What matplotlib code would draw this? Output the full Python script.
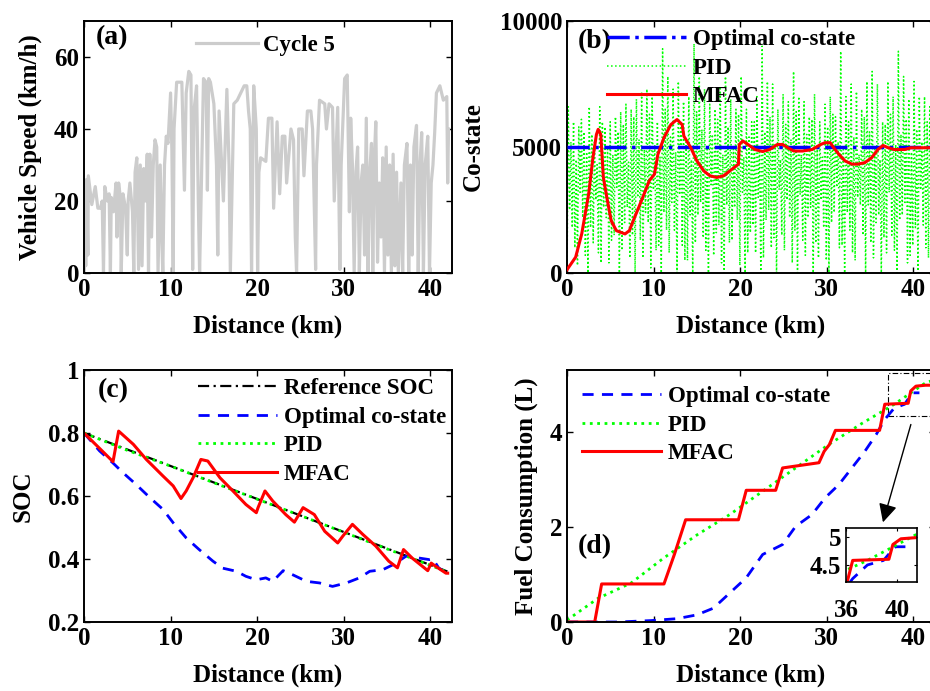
import numpy as np
import matplotlib
matplotlib.use("Agg")
import matplotlib.pyplot as plt
from matplotlib.patches import Rectangle

plt.rcParams['font.family'] = ['Liberation Serif', 'DejaVu Serif']
plt.rcParams['font.weight'] = 'bold'
plt.rcParams['font.size'] = 18
plt.rcParams['axes.labelweight'] = 'bold'

# ---- (a) driving cycle: distance (km) / speed (km/h)
speed_pts = [
    (0.0, 0), (0.1, 25), (0.2, 2), (0.3, 26), (0.45, 5), (0.5, 27), (0.6, 25), (0.9, 19),
    (1.3, 24), (1.6, 18), (1.9, 18), (2.1, 20), (2.25, 0), (2.4, 24), (2.7, 20), (2.9, 22),
    (3.05, 0), (3.15, 21), (3.4, 17), (3.7, 25), (3.8, 10), (4.0, 25), (4.2, 21), (4.3, 0),
    (4.5, 22), (4.8, 18), (5.0, 5), (5.1, 20), (5.3, 25), (5.6, 17), (5.75, 0), (5.9, 28),
    (6.1, 32), (6.3, 1), (6.5, 30), (6.7, 2), (6.9, 29), (7.1, 20), (7.3, 33), (7.45, 0),
    (7.6, 33), (7.8, 10), (8.0, 30), (8.2, 37), (8.4, 35), (8.55, 0), (8.8, 30), (9.0, 8),
    (9.1, 0), (9.3, 30), (9.5, 38), (9.7, 36), (9.9, 45), (10.0, 50), (10.15, 34), (10.3, 0),
    (10.4, 40), (10.7, 53), (11.3, 53), (11.6, 23), (11.8, 50), (12.1, 56), (12.35, 55),
    (12.55, 1), (12.7, 45), (13.0, 52), (13.2, 20), (13.35, 0), (13.8, 54), (14.1, 53),
    (14.25, 23), (14.4, 54), (14.6, 53), (15.0, 47), (15.3, 30), (15.45, 5), (15.6, 45),
    (15.8, 35), (16.1, 20), (16.5, 51), (16.75, 30), (16.9, 0), (17.3, 47), (17.7, 48),
    (18.1, 50), (18.5, 52), (18.8, 52), (19.0, 45), (19.2, 40), (19.35, 0), (19.6, 52),
    (19.9, 40), (20.05, 0), (20.2, 28), (20.4, 32), (21.0, 31), (21.3, 43), (21.7, 43),
    (21.9, 18), (22.3, 42), (22.6, 22), (22.9, 38), (23.2, 38), (23.4, 25), (23.9, 40),
    (24.2, 37), (24.4, 10), (24.55, 0), (24.8, 40), (25.2, 40), (25.4, 27), (25.8, 45),
    (26.2, 45), (26.4, 40), (26.75, 1), (26.85, 30), (27.2, 48), (27.8, 47), (28.0, 40),
    (28.3, 47), (28.7, 46), (28.9, 20), (29.3, 46), (29.55, 1), (29.7, 30), (30.1, 54),
    (30.4, 55), (30.65, 17), (30.8, 43), (31.0, 30), (31.2, 0), (31.4, 28), (31.6, 35),
    (31.8, 0), (32.0, 25), (32.2, 30), (32.4, 5), (32.6, 43), (32.8, 0), (33.0, 28),
    (33.2, 36), (33.35, 0), (33.5, 30), (33.7, 42), (33.9, 3), (34.1, 25), (34.3, 10),
    (34.5, 32), (34.7, 0), (34.9, 35), (35.1, 5), (35.3, 30), (35.5, 0), (35.7, 33),
    (35.9, 2), (36.1, 28), (36.3, 0), (36.6, 25), (36.8, 0), (37.0, 30), (37.3, 36),
    (37.5, 0), (37.7, 30), (37.9, 5), (38.1, 35), (38.4, 41), (38.6, 0), (38.8, 30),
    (39.0, 39), (39.2, 0), (39.4, 30), (39.7, 38), (39.9, 0), (40.1, 25), (40.3, 30),
    (40.5, 39), (40.7, 50), (41.1, 52), (41.5, 48), (41.9, 49), (42.0, 25), (42.1, 40),
]
speed_km = [p[0] for p in speed_pts]
speed_kmh = [p[1] for p in speed_pts]

# ---- (b) co-state
pid_peaks = [6600, 6000, 5800, 5600, 6600, 5200, 6600, 5800, 6000, 6200,
             6400, 6700, 6500, 6900, 7200, 7300, 7000, 6000, 8900, 7800,
             7300, 7600, 6800, 7000, 9100, 7800, 7300, 6700, 6500, 7400,
             7800, 6900, 6500, 7800, 6500, 6000, 7000, 9000, 7600, 7500,
             6500, 7100, 6800, 8000, 7000, 6800, 6200, 7100, 6000, 6700,
             7000, 6200, 8800, 7000, 7500, 7200, 6500, 7600, 8000, 7500,
             6000, 7600, 7000, 8800, 7800, 6900, 7600, 7000, 7000, 6600]
pid_lows = [0, 1800, 300, 2200, 0, 1200, 800, 2600, 400, 1500,
            0, 2000, 600, 0, 1300, 2400, 200, 900, 0, 1700,
            2800, 0, 1100, 500, 0, 2300, 1400, 0, 700, 1900,
            0, 1200, 2600, 300, 0, 1600, 800, 0, 2100, 1000,
            0, 1500, 2900, 400, 0, 1300, 2200, 0, 600, 1800,
            0, 2400, 1000, 0, 1700, 500, 2700, 0, 1200, 2000,
            0, 800, 1500, 0, 2300, 400, 1100, 0, 1900, 600]
pid_mid_lo = [2500, 1000, 3200, 700, 1800, 2900, 400, 2200, 1300, 3400,
              900, 2600, 1500, 3000, 600, 2000, 3300, 1100, 2400, 800,
              1700, 3100, 500, 2300, 1200, 2800, 900, 3500, 1600, 400,
              2700, 1300, 2100, 3200, 800, 1900, 3000, 600, 2500, 1400,
              3300, 900, 2200, 1700, 3100, 700, 2600, 1200, 2900, 500,
              2000, 3400, 1100, 2400, 800, 3000, 1500, 2700, 600, 2300,
              1400, 3200, 900, 2100, 2800, 700, 1800, 3300, 1000, 2500]
pid_mid_hi = [5200, 4500, 6100, 4800, 5500, 4300, 6000, 5000, 4700, 5600,
              5900, 4400, 6200, 5300, 4900, 6300, 5100, 4600, 6500, 5400,
              4800, 6000, 5200, 4500, 6400, 5700, 4900, 5500, 6100, 4700,
              5800, 5000, 6300, 4600, 5400, 6000, 4800, 5600, 6200, 5100,
              4500, 5900, 5300, 6400, 4700, 5500, 6100, 5000, 4600, 5800,
              6300, 5200, 4900, 6000, 5400, 4700, 6200, 5600, 5000, 4500,
              5900, 6300, 5100, 5500, 6100, 4800, 5700, 5200, 6000, 5400]
pid_cs = np.ravel(np.column_stack([pid_lows, pid_peaks, pid_mid_lo, pid_mid_hi]))
pid_cs_km = np.linspace(0, 42.2, len(pid_cs))

opt_cs_km = [0, 42.2]
opt_cs = [5000, 5000]

mfac_cs_km = [0, 1.0, 1.7, 2.5, 3.0, 3.4, 3.6, 3.9, 4.2, 4.6, 5.1, 5.7, 6.7, 7.2, 7.8, 8.6,
              9.5, 10.1, 10.5, 11.2, 12.0, 12.7, 13.3, 13.5, 14.3, 15.0, 15.8, 16.5, 17.3,
              18.1, 18.8, 19.8, 19.9, 20.3, 20.9, 21.7, 22.6, 23.4, 24.3, 24.9, 25.5, 26.2,
              27.2, 28.3, 29.3, 29.8, 30.4, 30.8, 31.4, 32.1, 32.9, 33.6, 34.4, 35.2, 35.9,
              36.5, 37.1, 37.8, 39.0, 39.7, 41.4, 42.2]
mfac_cs = [130, 630, 1550, 3130, 4580, 5500, 5700, 5500, 3790, 3000, 2080, 1680, 1550, 1680,
           2200, 2870, 3660, 3920, 4710, 5370, 5890, 6090, 5890, 5430, 4970, 4450, 4050, 3860,
           3790, 3860, 4050, 4320, 5100, 5240, 5100, 4900, 4820, 4900, 5100, 5100, 4970, 4840,
           4840, 4900, 5100, 5170, 5170, 4970, 4710, 4450, 4320, 4320, 4380, 4580, 4900, 5060,
           4970, 4900, 4900, 4970, 4970, 4970]

# ---- (c) SOC
ref_soc_km = [0, 42.0]
ref_soc = [0.80, 0.36]
pid_soc_km = [0, 5, 10, 15, 20, 25, 30, 35, 40, 42.0]
pid_soc = [0.80, 0.745, 0.695, 0.642, 0.590, 0.538, 0.485, 0.432, 0.380, 0.358]
opt_soc_km = [0, 1.8, 3.3, 4.5, 6.0, 7.6, 9.1, 10.3, 11.8, 13.3, 14.9, 16.0, 17.6, 18.7, 19.9,
              21.0, 21.8, 23.0, 24.1, 25.7, 27.2, 28.7, 30.3, 31.8, 33.0, 34.5, 35.7, 37.2,
              38.7, 39.9, 40.3, 41.0, 41.8]
opt_soc = [0.80, 0.743, 0.706, 0.674, 0.637, 0.595, 0.558, 0.515, 0.467, 0.430, 0.393, 0.371,
           0.361, 0.345, 0.334, 0.340, 0.329, 0.363, 0.350, 0.329, 0.324, 0.313, 0.324, 0.340,
           0.361, 0.366, 0.382, 0.409, 0.403, 0.398, 0.400, 0.370, 0.360]
mfac_soc_km = [0, 3.35, 4.0, 5.7, 7.2, 9.1, 10.3, 11.2, 11.8, 12.6, 13.5, 14.3, 15.7, 17.2,
               18.7, 19.9, 20.1, 20.9, 21.8, 23.3, 24.3, 25.3, 26.6, 27.8, 29.3, 29.9, 31.0,
               32.2, 33.7, 35.2, 36.2, 36.9, 37.9, 39.7, 40.1, 40.6, 41.8, 42.0]
mfac_soc = [0.80, 0.709, 0.806, 0.764, 0.716, 0.664, 0.632, 0.592, 0.616, 0.658, 0.716, 0.711,
            0.658, 0.616, 0.573, 0.547, 0.563, 0.616, 0.584, 0.541, 0.517, 0.563, 0.541, 0.488,
            0.451, 0.473, 0.510, 0.478, 0.441, 0.393, 0.372, 0.430, 0.403, 0.363, 0.387, 0.377,
            0.355, 0.355]

# ---- (d) fuel consumption (L)
mfac_fuel_km = [0, 3.2, 4.0, 11.2, 12.4, 13.7, 19.8, 20.7, 24.1, 24.9, 29.1, 29.7, 30.3, 31.0,
                36.1, 36.7, 39.4, 39.7, 40.3, 41.4, 42.2]
mfac_fuel = [0, 0, 0.80, 0.80, 1.42, 2.15, 2.15, 2.77, 2.77, 3.24, 3.35, 3.59, 3.73, 4.03,
             4.03, 4.58, 4.60, 4.86, 4.96, 4.98, 4.98]
pid_fuel_km = [0, 3.6, 7.4, 11.2, 15.0, 18.8, 22.6, 26.4, 30.2, 34.0, 37.8, 41.4, 42.2]
pid_fuel = [0.04, 0.50, 0.82, 1.35, 1.83, 2.26, 2.75, 3.24, 3.73, 4.17, 4.58, 5.03, 5.08]
opt_fuel_km = [0, 5.9, 9.7, 12.7, 15.0, 16.9, 18.8, 20.7, 22.6, 24.9, 26.4, 28.3, 29.8, 31.4,
               32.9, 34.4, 35.7, 36.7, 37.8, 39.0, 39.5, 39.9, 40.7]
opt_fuel = [0, 0, 0.03, 0.07, 0.15, 0.29, 0.61, 0.93, 1.42, 1.63, 2.01, 2.26, 2.61, 2.89,
            3.24, 3.59, 3.94, 4.26, 4.50, 4.58, 4.72, 4.82, 4.82]

GREY = (0.8, 0.8, 0.8)
GREEN = (0.0, 1.0, 0.0)
DASHDOT = (0, (5, 2, 1, 2))
DASHED = (0, (4, 3))
LEG_FS = 16.5

W, H = 930, 691


def place(x0, y_top, w=368, h=252):
    return fig.add_axes([x0 / W, 1 - (y_top + h) / H, w / W, h / H])


def style(ax):
    ax.tick_params(direction='in', top=True, right=True, length=4, width=1, labelsize=18)
    for s in ax.spines.values():
        s.set_linewidth(1.4)
    ax.set_xlim(0, 42.5)
    ax.set_xticks([0, 10, 20, 30, 40])
    ax.set_xlabel('Distance (km)')
    ax.xaxis.set_label_coords(0.5, -0.165)


def legend(ax, handles, labels, x, y):
    ax.legend(handles, labels, loc='upper left', bbox_to_anchor=(x, y), frameon=False,
              borderpad=0, borderaxespad=0, handlelength=3.45, handletextpad=0.28,
              labelspacing=0.33, fontsize=LEG_FS)


fig = plt.figure(figsize=(9.3, 6.91), dpi=100)

# (a)
ax1 = place(84, 21)
ax1.plot(speed_km, speed_kmh, color=GREY, lw=2.3, label='Cycle 5')
ax1.set_ylim(0, 70)
ax1.set_yticks([0, 20, 40, 60])
style(ax1)
ax1.set_ylabel('Vehicle Speed (km/h)')
ax1.yaxis.set_label_coords(-0.114, 0.5)
ax1.text(0.076, 0.933, '(a)', transform=ax1.transAxes, fontsize=20, ha='center', va='center')
h, l = ax1.get_legend_handles_labels()
ax1.legend(h, l, loc='upper left', bbox_to_anchor=(0.304, 0.944), frameon=False,
           borderpad=0, borderaxespad=0, handlelength=2.7, handletextpad=0.22, fontsize=LEG_FS)

# (b)
ax2 = place(567, 21)
ax2.plot(pid_cs_km, pid_cs, color=GREEN, ls=':', lw=1.1, label='PID')
ax2.plot(opt_cs_km, opt_cs, color='blue', ls='-.', lw=2.5, label='Optimal co-state', zorder=3)
ax2.plot(mfac_cs_km, mfac_cs, color='red', lw=2.2, label='MFAC', zorder=4)
ax2.set_ylim(0, 10000)
ax2.set_yticks([0, 5000, 10000])
style(ax2)
ax2.set_ylabel('Co-state')
ax2.yaxis.set_label_coords(-0.223, 0.5)
ax2.text(0.076, 0.917, '(b)', transform=ax2.transAxes, fontsize=20, ha='center', va='center')
h, l = ax2.get_legend_handles_labels()
legend(ax2, [h[1], h[0], h[2]], [l[1], l[0], l[2]], 0.109, 0.968)

# (c)
ax3 = place(84, 370)
ax3.plot(ref_soc_km, ref_soc, color='black', ls=DASHDOT, lw=1.6, label='Reference SOC')
ax3.plot(opt_soc_km, opt_soc, color='blue', ls=DASHED, lw=2.0, label='Optimal co-state')
ax3.plot(pid_soc_km, pid_soc, color=GREEN, ls=':', lw=2.0, label='PID')
ax3.plot(mfac_soc_km, mfac_soc, color='red', lw=2.2, label='MFAC')
ax3.set_ylim(0.2, 1.0)
ax3.set_yticks([0.2, 0.4, 0.6, 0.8, 1.0])
ax3.set_yticklabels(['0.2', '0.4', '0.6', '0.8', '1'])
style(ax3)
ax3.set_ylabel('SOC')
ax3.yaxis.set_label_coords(-0.133, 0.5)
ax3.text(0.079, 0.92, '(c)', transform=ax3.transAxes, fontsize=20, ha='center', va='center')
h, l = ax3.get_legend_handles_labels()
legend(ax3, h, l, 0.31, 0.968)

# (d)
ax4 = place(567, 370)
ax4.plot(opt_fuel_km, opt_fuel, color='blue', ls=DASHED, lw=2.0, label='Optimal co-state')
ax4.plot(pid_fuel_km, pid_fuel, color=GREEN, ls=':', lw=2.0, label='PID')
ax4.plot(mfac_fuel_km, mfac_fuel, color='red', lw=2.2, label='MFAC')
ax4.set_ylim(0, 5.3)
ax4.set_yticks([0, 2, 4])
style(ax4)
ax4.set_ylabel('Fuel Consumption (L)')
ax4.yaxis.set_label_coords(-0.079, 0.5)
ax4.text(0.076, 0.298, '(d)', transform=ax4.transAxes, fontsize=20, ha='center', va='center')
h, l = ax4.get_legend_handles_labels()
legend(ax4, h, l, 0.041, 0.937)
ax4.add_patch(Rectangle((37.1, 4.34), 6, 0.9, fill=False, ls=DASHDOT, lw=0.8, color='black'))
ax4.annotate('', xy=(36.4, 2.04), xytext=(39.8, 4.21),
             arrowprops=dict(arrowstyle='-|>', mutation_scale=28, color='black', lw=1))

ins = fig.add_axes([846 / W, 1 - 582 / H, 71 / W, 54 / H])
ins.plot(opt_fuel_km, opt_fuel, color='blue', ls=DASHED, lw=2.0)
ins.plot(pid_fuel_km, pid_fuel, color=GREEN, ls=':', lw=2.0)
ins.plot(mfac_fuel_km, mfac_fuel, color='red', lw=2.2)
ins.set_xlim(36.2, 41.5)
ins.set_ylim(4.2, 5.15)
ins.set_xticks([36.2, 40])
ins.set_xticklabels(['36', '40'])
ins.set_yticks([4.5, 5])
ins.set_yticklabels(['4.5', '5'])
ins.tick_params(direction='in', top=True, right=True, length=2, labelsize=18)
ins.tick_params(axis='x', pad=12)
for s in ins.spines.values():
    s.set_linewidth(1.2)

fig.savefig('out.png', dpi=100)
